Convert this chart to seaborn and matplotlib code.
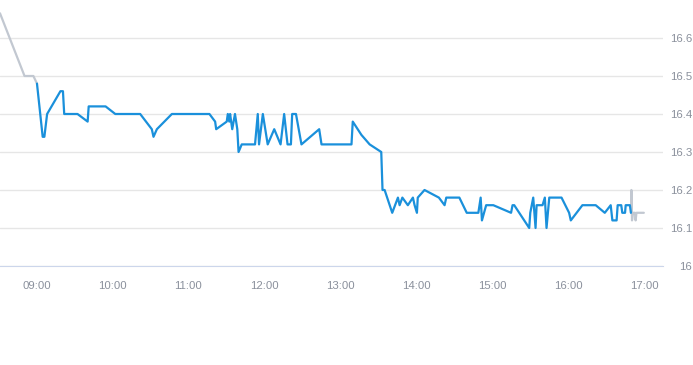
import pandas as pd
import matplotlib.pyplot as plt
import matplotlib.dates as mdates
import seaborn as sns

# pre-market (gray)
PRE_TIMES = ["08:31:18", "08:50:40", "08:57:40", "09:00:30"]
PRE_PRICES = [16.665, 16.50, 16.50, 16.48]

# regular session (blue)
TIMES = [
    "09:00:30", "09:05:00", "09:06:20", "09:08:30", "09:19:00", "09:21:00", "09:22:00",
    "09:32:30", "09:40:30", "09:41:20", "09:54:40", "10:02:20", "10:22:00", "10:31:10",
    "10:32:30", "10:35:10", "10:47:00", "11:16:40", "11:21:10", "11:22:00", "11:30:20",
    "11:31:10", "11:32:20", "11:33:00", "11:34:40", "11:36:50", "11:38:40", "11:39:40",
    "11:42:10", "11:52:40", "11:54:50", "11:55:50", "11:58:50", "12:02:40", "12:07:50",
    "12:12:50", "12:15:40", "12:18:20", "12:21:00", "12:22:00", "12:25:00", "12:29:20",
    "12:43:20", "12:45:10", "13:08:50", "13:09:50", "13:16:40", "13:23:10", "13:32:20",
    "13:33:20", "13:35:00", "13:41:00", "13:45:30", "13:46:50", "13:49:00", "13:53:20",
    "13:57:20", "13:58:40", "14:00:30", "14:01:10", "14:06:30", "14:17:50", "14:22:20",
    "14:23:40", "14:34:00", "14:39:50", "14:49:00", "14:50:50", "14:51:50", "14:55:10",
    "15:00:50", "15:14:50", "15:16:00", "15:17:20", "15:29:10", "15:30:00", "15:32:20",
    "15:34:10", "15:35:00", "15:39:40", "15:41:30", "15:42:50", "15:45:00", "15:54:40",
    "16:00:40", "16:02:00", "16:11:10", "16:21:40", "16:28:50", "16:33:30", "16:34:50",
    "16:38:10", "16:39:00", "16:41:50", "16:42:40", "16:44:50", "16:45:20", "16:48:40",
    "16:49:30",
]
PRICES = [
    16.48, 16.34, 16.34, 16.40, 16.46, 16.46, 16.40,
    16.40, 16.38, 16.42, 16.42, 16.40, 16.40, 16.36,
    16.34, 16.36, 16.40, 16.40, 16.38, 16.36, 16.38,
    16.40, 16.38, 16.40, 16.36, 16.40, 16.36, 16.30,
    16.32, 16.32, 16.40, 16.32, 16.40, 16.32, 16.36,
    16.32, 16.40, 16.32, 16.32, 16.40, 16.40, 16.32,
    16.36, 16.32, 16.32, 16.38, 16.345, 16.32, 16.30,
    16.20, 16.20, 16.14, 16.18, 16.16, 16.18, 16.16,
    16.18, 16.16, 16.14, 16.18, 16.20, 16.18, 16.16,
    16.18, 16.18, 16.14, 16.14, 16.18, 16.12, 16.16,
    16.16, 16.14, 16.16, 16.16, 16.10, 16.14, 16.18,
    16.10, 16.16, 16.16, 16.18, 16.10, 16.18, 16.18,
    16.14, 16.12, 16.16, 16.16, 16.14, 16.16, 16.12,
    16.12, 16.16, 16.16, 16.14, 16.14, 16.16, 16.16,
    16.14,
]

# after-hours (gray)
POST_TIMES = ["16:49:30", "16:49:50", "16:50:20", "16:51:10", "16:52:40", "16:53:10",
              "16:53:50", "16:59:40"]
POST_PRICES = [16.14, 16.20, 16.12, 16.14, 16.14, 16.12, 16.14, 16.14]

X_TICKS = ["09:00", "10:00", "11:00", "12:00", "13:00", "14:00", "15:00", "16:00", "17:00"]
Y_TICKS = [16.0, 16.1, 16.2, 16.3, 16.4, 16.5, 16.6]
Y_LABELS = ["16", "16.1", "16.2", "16.3", "16.4", "16.5", "16.6"]

DAY = "2024-01-02 "
BLUE = "#1a90db"
GRAY = "#c2c8d1"
TEXT = "#8a909c"


def frame(times, prices):
    return pd.DataFrame({"time": pd.to_datetime([DAY + t for t in times]), "price": prices})


def main():
    sns.set_style("white")
    plt.rcParams["font.family"] = ["Liberation Sans", "DejaVu Sans"]

    fig = plt.figure(figsize=(6.93, 3.65), dpi=100)
    ax = fig.add_axes([0, 1 - 266 / 365, 663 / 693, 266 / 365])

    for times, prices, color in [(PRE_TIMES, PRE_PRICES, GRAY),
                                 (POST_TIMES, POST_PRICES, GRAY),
                                 (TIMES, PRICES, BLUE)]:
        sns.lineplot(data=frame(times, prices), x="time", y="price", ax=ax,
                     color=color, linewidth=1.6, estimator=None, sort=False)

    ax.set_xlim(pd.Timestamp(DAY + "08:31:18"), pd.Timestamp(DAY + "17:14:48"))
    ax.set_ylim(16.0, 16.70)

    ax.set_xticks(pd.to_datetime([DAY + t for t in X_TICKS]))
    ax.xaxis.set_major_formatter(mdates.DateFormatter("%H:%M"))
    ax.tick_params(axis="x", colors="#ccd6eb", length=5, width=1, pad=6,
                   labelcolor=TEXT, labelsize=8.2)

    ax.yaxis.tick_right()
    ax.set_yticks(Y_TICKS)
    ax.set_yticklabels(Y_LABELS)
    ax.tick_params(axis="y", length=0, pad=21, labelcolor=TEXT, labelsize=8.2)
    for lab in ax.get_yticklabels():
        lab.set_horizontalalignment("right")

    ax.grid(axis="y", color="#e6e6e6", linewidth=1)
    ax.grid(axis="x", visible=False)
    for side in ["top", "left", "right"]:
        ax.spines[side].set_visible(False)
    ax.spines["bottom"].set_color("#ccd6eb")
    ax.set_xlabel("")
    ax.set_ylabel("")

    fig.savefig("out.png", dpi=100)
    plt.close(fig)


if __name__ == "__main__":
    main()
